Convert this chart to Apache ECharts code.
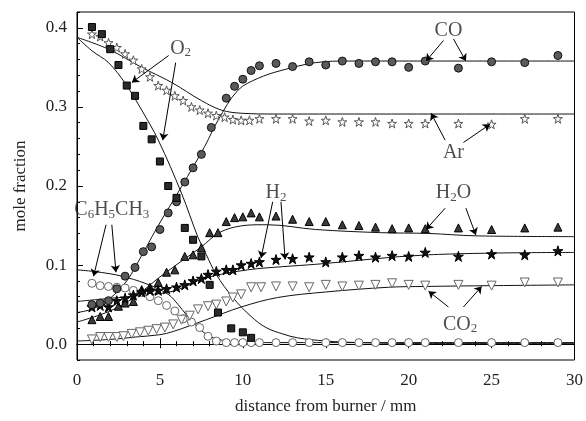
<!DOCTYPE html>
<html>
<head>
<meta charset="utf-8">
<script src="https://cdn.jsdelivr.net/npm/echarts@6/dist/echarts.min.js"></script>
<style>
  html, body { margin: 0; padding: 0; background: #fff; }
  #chart { width: 586px; height: 421px; }
</style>
</head>
<body>
<div id="chart"></div>
<script>
// measured points [distance mm, mole fraction]
var o2Pts = [[0.9,0.401],[1.5,0.392],[2.0,0.373],[2.5,0.353],[3.0,0.327],[3.5,0.314],[4.0,0.276],[4.5,0.259],[5.0,0.231],[5.5,0.200],[6.0,0.185],[6.5,0.147],[7.0,0.132],[7.5,0.111],[8.0,0.075],[8.5,0.040],[9.3,0.020],[10.0,0.015],[10.5,0.008]];
var arPts = [[0.9,0.392],[1.4,0.389],[1.9,0.381],[2.4,0.375],[2.9,0.367],[3.4,0.359],[3.9,0.348],[4.4,0.338],[4.9,0.327],[5.4,0.321],[5.9,0.314],[6.4,0.308],[6.9,0.300],[7.4,0.296],[7.9,0.292],[8.4,0.289],[8.9,0.287],[9.4,0.284],[9.9,0.283],[10.4,0.283],[11,0.285],[12,0.285],[13,0.285],[14,0.282],[15,0.283],[16,0.281],[17,0.281],[18,0.281],[19,0.279],[20,0.279],[21,0.279],[23,0.279],[25,0.278],[27,0.285],[29,0.285]];
var coPts = [[0.9,0.050],[1.4,0.052],[1.9,0.055],[2.4,0.070],[2.9,0.086],[3.5,0.097],[4.0,0.117],[4.5,0.123],[5.0,0.145],[5.5,0.166],[6.0,0.180],[6.5,0.205],[7.0,0.223],[7.5,0.240],[8.1,0.274],[9.0,0.311],[9.5,0.326],[10.0,0.335],[10.5,0.346],[11,0.352],[12,0.355],[13,0.351],[14,0.357],[15,0.353],[16,0.358],[17,0.355],[18,0.357],[19,0.357],[20,0.350],[21,0.358],[23,0.349],[25,0.357],[27,0.356],[29,0.365]];
var h2Pts = [[0.9,0.047],[1.4,0.049],[1.9,0.047],[2.4,0.055],[2.9,0.058],[3.4,0.062],[3.9,0.066],[4.4,0.068],[4.9,0.068],[5.4,0.070],[6.0,0.072],[6.5,0.075],[7.0,0.080],[7.5,0.083],[7.9,0.088],[8.4,0.092],[9.0,0.094],[9.4,0.094],[9.9,0.100],[10.5,0.102],[11,0.104],[12,0.107],[13,0.108],[14,0.110],[15,0.104],[16,0.110],[17,0.112],[18,0.110],[19,0.112],[20,0.111],[21,0.116],[23,0.111],[25,0.114],[27,0.113],[29,0.118]];
var h2oPts = [[0.9,0.031],[1.4,0.035],[1.9,0.035],[2.5,0.048],[2.9,0.052],[3.4,0.054],[3.9,0.069],[4.4,0.072],[4.9,0.078],[5.4,0.091],[5.9,0.094],[6.5,0.111],[7.0,0.113],[7.5,0.122],[8.0,0.141],[8.5,0.141],[9.0,0.155],[9.5,0.160],[10,0.161],[10.5,0.166],[11,0.161],[12,0.162],[13,0.158],[14,0.155],[15,0.155],[16,0.151],[17,0.150],[18,0.148],[19,0.146],[20,0.147],[21,0.146],[23,0.147],[25,0.145],[27,0.147],[29,0.148]];
var tolPts = [[0.9,0.077],[1.4,0.074],[1.9,0.073],[2.4,0.072],[2.9,0.071],[3.4,0.068],[3.9,0.065],[4.4,0.060],[4.9,0.055],[5.4,0.049],[5.9,0.042],[6.4,0.032],[6.9,0.028],[7.4,0.021],[7.9,0.010],[8.4,0.004],[9.0,0.002],[9.5,0.002],[10,0.002],[10.5,0.002],[11,0.002],[12,0.002],[13,0.002],[14,0.002],[15,0.002],[16,0.002],[17,0.002],[18,0.002],[19,0.002],[20,0.002],[21,0.002],[23,0.002],[25,0.002],[27,0.002],[29,0.002]];
var co2Pts = [[0.9,0.006],[1.4,0.009],[1.9,0.009],[2.4,0.009],[2.8,0.010],[3.3,0.013],[3.8,0.015],[4.3,0.017],[4.8,0.019],[5.3,0.021],[5.8,0.025],[6.3,0.031],[6.8,0.036],[7.3,0.044],[7.9,0.048],[8.4,0.050],[9.0,0.054],[9.4,0.059],[9.9,0.063],[10.5,0.072],[11.1,0.072],[12,0.073],[13,0.073],[14,0.072],[15,0.075],[16,0.073],[17,0.074],[18,0.075],[19,0.077],[20,0.075],[21,0.074],[23,0.075],[25,0.074],[27,0.078],[29,0.078]];

// model curves
var o2Fit = [[0,0.388],[0.9,0.371],[1.9,0.356],[2.9,0.330],[3.9,0.296],[4.9,0.258],[6.3,0.191],[7.3,0.135],[7.8,0.113],[8.4,0.088],[9.4,0.059],[10.5,0.035],[11.4,0.021],[12.4,0.013],[13.3,0.008],[15,0.004],[17,0.002],[20,0.001],[30,0.001]];
var arFit = [[0,0.388],[1.9,0.373],[3.9,0.350],[5.7,0.331],[7.5,0.308],[8.7,0.296],[9.9,0.292],[12,0.291],[30,0.291]];
var coFit = [[0,0.040],[1,0.045],[2,0.058],[3,0.080],[3.5,0.097],[4.9,0.150],[6.3,0.199],[7.7,0.250],[8.5,0.283],[9.7,0.321],[10.9,0.336],[12.3,0.346],[14.4,0.356],[16.4,0.358],[30,0.358]];
var h2Fit = [[0,0.054],[2,0.058],[4,0.062],[5.8,0.067],[7.8,0.084],[10.3,0.094],[12.4,0.098],[14.4,0.101],[21.2,0.113],[30,0.116]];
var h2oFit = [[0,0.028],[2,0.042],[3.5,0.060],[5,0.085],[6.5,0.108],[7.5,0.123],[8.5,0.140],[9.5,0.148],[10.9,0.151],[11.5,0.151],[14.4,0.145],[18.3,0.141],[21.2,0.140],[24,0.137],[30,0.136]];
var tolFit = [[0,0.094],[1,0.092],[2,0.089],[2.7,0.086],[4.1,0.077],[5.5,0.063],[6.1,0.050],[6.6,0.037],[7.2,0.023],[8,0.010],[9,0.004],[10,0.002],[30,0.002]];
var co2Fit = [[0,0.004],[2,0.006],[3.5,0.009],[5,0.012],[5.8,0.016],[7.8,0.031],[9.9,0.047],[12.1,0.059],[15,0.066],[18.8,0.072],[21,0.073],[25,0.074],[30,0.075]];

var yTicks = [0, 0.1, 0.2, 0.3, 0.4];

// species labels [x, y, text] and arrows [x1, y1, x2, y2]
var labelPts = [
  [6.25, 0.374, 'O{s|2}'],
  [22.4, 0.396, 'CO'],
  [22.7, 0.242, 'Ar'],
  [22.7, 0.191, 'H{s|2}O'],
  [12.0, 0.191, 'H{s|2}'],
  [2.1, 0.170, 'C{s|6}H{s|5}CH{s|3}'],
  [23.1, 0.025, 'CO{s|2}']
];
var arrows = [
  [5.53,0.365,3.31,0.331],[5.95,0.356,5.17,0.258],
  [22.1,0.384,21.05,0.358],[22.7,0.386,23.45,0.358],
  [22.2,0.258,21.35,0.292],[23.3,0.255,24.9,0.278],
  [22.2,0.172,21.05,0.145],[23.45,0.172,24.05,0.138],
  [11.8,0.180,11.1,0.109],[12.3,0.180,12.55,0.107],
  [1.75,0.151,1.0,0.086],[2.1,0.151,2.35,0.091],
  [22.4,0.047,21.2,0.067],[23.3,0.047,24.4,0.073]
];

var FONT = 'Liberation Serif';
var starPath = 'path://M50,2 L61,36 L97,36 L68,57 L79,92 L50,71 L21,92 L32,57 L3,36 L39,36 Z';

function fitSeries(d) {
    return { type: 'line', data: d, smooth: 0.35, showSymbol: false, silent: true,
             lineStyle: { color: '#111', width: 1 }, z: 2 };
}
function markSeries(d, sym, size, fill, border, rot) {
    return { type: 'scatter', data: d, symbol: sym, symbolSize: size, symbolRotate: rot || 0,
             itemStyle: { color: fill, borderColor: border, borderWidth: 1, opacity: 1 }, z: 3 };
}

var chart = echarts.init(document.getElementById('chart'));
chart.setOption({
    animation: false,
    grid: { left: 77, right: 9, top: 12, bottom: 61, show: true, borderColor: '#000', borderWidth: 1 },
    xAxis: [{
        type: 'value', min: 0, max: 30, interval: 5,
        name: 'distance from burner / mm', nameLocation: 'middle', nameGap: 38,
        nameTextStyle: { fontFamily: FONT, fontSize: 17, color: '#222' },
        axisLine: { lineStyle: { color: '#000' } },
        axisTick: { inside: true, length: 6, lineStyle: { color: '#000' } },
        minorTick: { show: true, splitNumber: 5, length: 3, lineStyle: { color: '#000' } },
        axisLabel: { fontFamily: FONT, fontSize: 17, color: '#222', margin: 12 },
        splitLine: { show: false }
    }, {
        type: 'value', min: 0, max: 30, interval: 5, position: 'top',
        axisLine: { lineStyle: { color: '#000' } },
        axisTick: { inside: true, length: 4, lineStyle: { color: '#000' } },
        minorTick: { show: true, splitNumber: 5, length: 2, lineStyle: { color: '#000' } },
        axisLabel: { show: false }, splitLine: { show: false }
    }],
    yAxis: [{
        type: 'value', min: -0.02, max: 0.42,
        name: 'mole fraction', nameLocation: 'middle', nameGap: 48, nameRotate: 90,
        nameTextStyle: { fontFamily: FONT, fontSize: 17, color: '#222' },
        axisLine: { lineStyle: { color: '#000' } },
        axisTick: { inside: true, length: 6, customValues: yTicks, lineStyle: { color: '#000' } },
        axisLabel: { customValues: yTicks, fontFamily: FONT, fontSize: 17, color: '#222', margin: 10,
                     formatter: function (v) { return v.toFixed(1); } },
        splitLine: { show: false }
    }, {
        type: 'value', min: -0.02, max: 0.42, interval: 0.02, position: 'left',
        axisLine: { show: false },
        axisTick: { inside: true, length: 3, lineStyle: { color: '#000' } },
        axisLabel: { show: false }, splitLine: { show: false }
    }],
    series: [
        fitSeries(o2Fit), fitSeries(arFit), fitSeries(coFit), fitSeries(h2Fit),
        fitSeries(h2oFit), fitSeries(tolFit), fitSeries(co2Fit),
        markSeries(tolPts, 'circle', 8, '#fff', '#666'),
        markSeries(co2Pts, 'triangle', 9, '#fff', '#666', 180),
        markSeries(arPts, starPath, 9, '#fff', '#555'),
        markSeries(h2oPts, 'triangle', 8, '#3a3a3a', '#000'),
        markSeries(h2Pts, starPath, 10, '#111', '#000'),
        markSeries(coPts, 'circle', 8, '#5a5a5a', '#111'),
        markSeries(o2Pts, 'rect', 7, '#2a2a2a', '#000'),
        {
            type: 'line', data: [], silent: true, z: 4,
            markLine: {
                silent: true, symbol: ['none', 'arrow'], symbolSize: 7,
                lineStyle: { color: '#000', width: 1, type: 'solid' }, label: { show: false },
                data: arrows.map(function (a) { return [{ coord: [a[0], a[1]] }, { coord: [a[2], a[3]] }]; })
            }
        },
        {
            type: 'scatter', data: labelPts, symbolSize: 0, silent: true, z: 5,
            label: {
                show: true, position: 'inside', color: '#222', fontFamily: FONT, fontSize: 20,
                formatter: function (p) { return p.data[2]; },
                rich: { s: { fontFamily: FONT, fontSize: 13, color: '#222', padding: [9, 0, 0, 0] } }
            }
        }
    ]
});
</script>
</body>
</html>
